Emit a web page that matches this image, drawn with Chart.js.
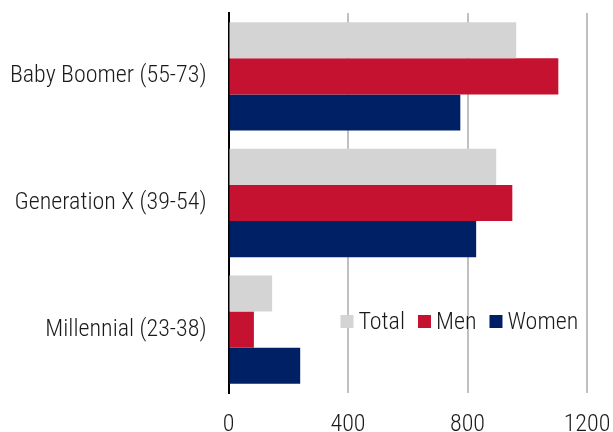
<!DOCTYPE html>
<html>
<head>
<meta charset="utf-8">
<script src="https://cdn.jsdelivr.net/npm/chart.js@4"></script>
<style>
  html, body { margin: 0; padding: 0; background: #fff; }
  #wrap { width: 613px; height: 432px; }
</style>
</head>
<body>
<div id="wrap"><canvas id="chart"></canvas></div>
<script>
const categories = ["Baby Boomer (55-73)", "Generation X (39-54)", "Millennial (23-38)"];
const total = [963, 896, 146];
const men = [1104, 950, 85];
const women = [776, 829, 240];
const xTicks = [0, 400, 800, 1200];

// Roboto's width axis gives a light condensed face; the stretch keyword rides along in the weight slot
const FONT_FAMILY = "Roboto, sans-serif";
const FONT_WEIGHT = "condensed 300";
const FONT_SIZE = 24;
const TEXT = "#1a1a1a";

// legend drawn inside the plot, lower right
const innerLegend = {
  id: "innerLegend",
  afterDraw(chart) {
    const ctx = chart.ctx;
    const area = chart.chartArea;
    let x = area.left + 112;
    const y = area.top + 309;
    ctx.save();
    ctx.font = FONT_WEIGHT + " " + FONT_SIZE + "px " + FONT_FAMILY;
    ctx.textBaseline = "middle";
    chart.data.datasets.forEach(function (ds) {
      ctx.fillStyle = ds.backgroundColor;
      ctx.fillRect(x, y - 7, 13, 13);
      ctx.fillStyle = TEXT;
      ctx.fillText(ds.label, x + 18, y + 1);
      x += 18 + ctx.measureText(ds.label).width + 13;
    });
    ctx.restore();
  }
};

// drop the extra room Chart.js reserves for overhanging tick labels
function noOverhang(scale) {
  scale.paddingTop = 0;
  scale.paddingBottom = 0;
  scale.paddingLeft = 0;
  scale.paddingRight = 0;
}

const ctx = document.getElementById("chart").getContext("2d");
new Chart(ctx, {
  type: "bar",
  data: {
    labels: categories,
    datasets: [
      { label: "Total", data: total, backgroundColor: "#d4d4d4" },
      { label: "Men", data: men, backgroundColor: "#c41230" },
      { label: "Women", data: women, backgroundColor: "#002066" }
    ]
  },
  options: {
    indexAxis: "y",
    responsive: true,
    maintainAspectRatio: false,
    animation: false,
    layout: { padding: { top: 13, right: 26, left: 0, bottom: 0 } },
    datasets: {
      bar: { categoryPercentage: 0.855, barPercentage: 1.0, borderWidth: 0 }
    },
    plugins: {
      legend: { display: false },
      tooltip: { enabled: false }
    },
    scales: {
      x: {
        min: 0,
        max: 1200,
        afterBuildTicks: function (scale) {
          scale.ticks = xTicks.map(function (v) { return { value: v }; });
        },
        afterFit: function (scale) {
          scale.height = 39;
          noOverhang(scale);
        },
        grid: { color: "#c0c0c0", lineWidth: 2, drawTicks: false },
        border: { display: false },
        ticks: {
          padding: 18,
          color: TEXT,
          font: { family: FONT_FAMILY, weight: FONT_WEIGHT, size: FONT_SIZE },
          callback: function (v) { return String(v); }
        }
      },
      y: {
        afterFit: function (scale) {
          scale.width = 228.5;
          noOverhang(scale);
        },
        grid: { display: false, drawTicks: false },
        border: { display: true, color: "#000", width: 2 },
        ticks: {
          padding: 22,
          color: TEXT,
          font: { family: FONT_FAMILY, weight: FONT_WEIGHT, size: FONT_SIZE }
        }
      }
    }
  },
  plugins: [innerLegend]
});
</script>
</body>
</html>
